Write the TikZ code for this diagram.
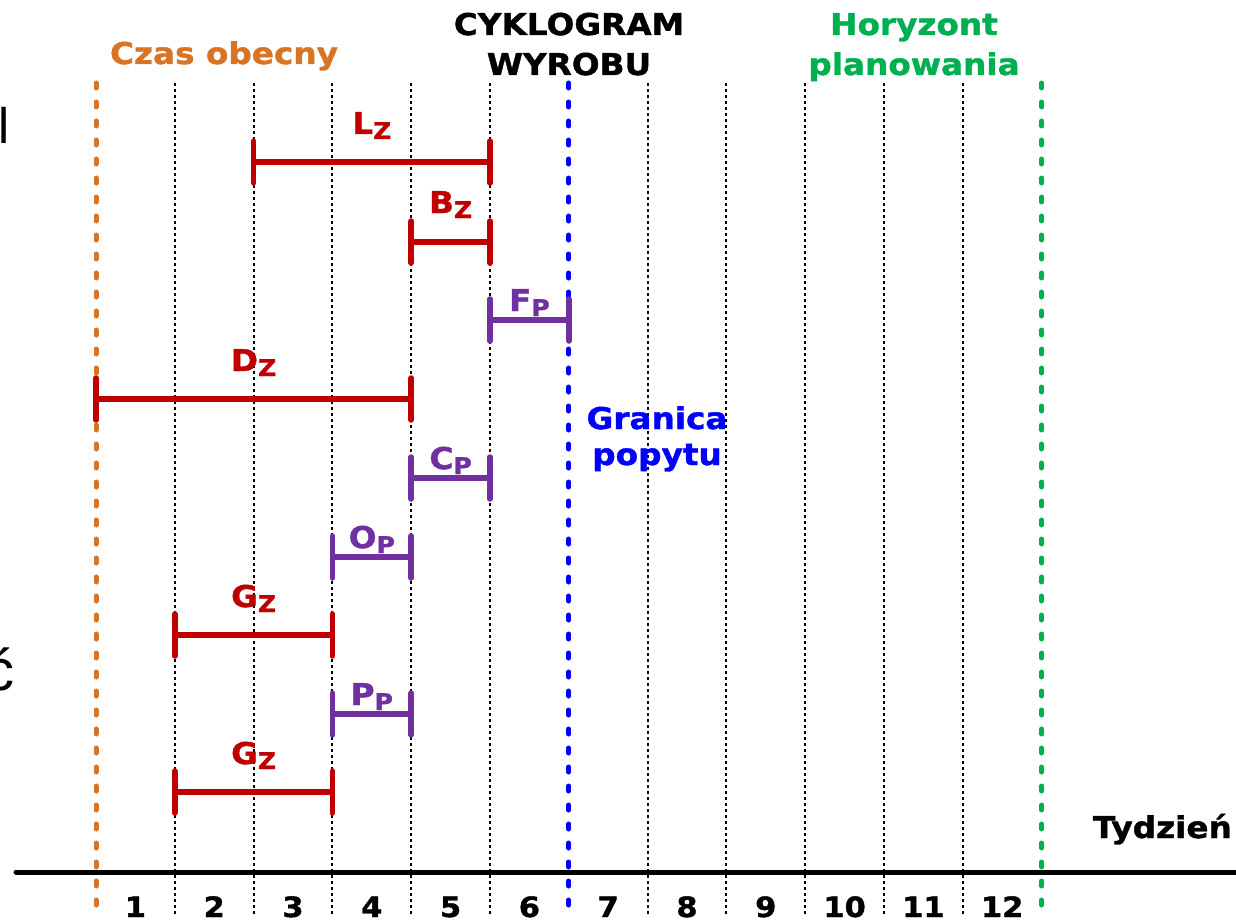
\documentclass[tikz,border=0pt]{standalone}
\usepackage{fontspec}
\newfontfamily\vb{DejaVu Sans}[FakeStretch=1.09, BoldFeatures={FakeBold=1.3}]
\newfontfamily\slide{Liberation Sans}
\definecolor{zred}{HTML}{C00000}
\definecolor{zpurple}{HTML}{7030A0}
\definecolor{zorange}{HTML}{DA7425}
\definecolor{zblue}{HTML}{0000FF}
\definecolor{zgreen}{HTML}{00B050}
\newcommand\lsub[2]{#1\raisebox{-5pt}{\fontsize{23}{23}\selectfont #2}}
\tikzset{
  lab/.style={font=\vb\bfseries\fontsize{30}{36}\selectfont, inner sep=0pt, anchor=base},
  num/.style={font=\vb\bfseries\fontsize{28}{30}\selectfont, inner sep=0pt, anchor=base},
  weekline/.style={line width=2pt, dash pattern=on 3pt off 3pt},
  markline/.style={line width=5pt, line cap=round, dash pattern=on 5pt off 14pt},
  barline/.style={line width=5.5pt},
  barend/.style={line width=5.5pt, line cap=round},
}
\begin{document}
\begin{tikzpicture}[x=1pt,y=-1pt]
\useasboundingbox (0,0) rectangle (1236,923);

% edge of neighbouring text
\node[font=\slide\fontsize{50}{50}\selectfont, inner sep=0pt, anchor=base east] (edge1) at (10,143) {l};
\node[font=\slide\fontsize{58}{58}\selectfont, inner sep=0pt, anchor=base east] (edge2) at (15,690) {ć};

% week boundaries
\foreach \k in {1,...,5,7,8,...,11} {
  \coordinate (t\k) at ({96+78.8*\k},83);
  \coordinate (b\k) at ({96+78.8*\k},914);
  \draw[weekline] (t\k) -- (b\k);
}

% time axis
\coordinate (axL) at (16,872);
\coordinate (axR) at (1240,872);
\draw[line width=5pt, line cap=round] (axL) -- (axR);
\node[lab, anchor=base east] (tydz) at (1232,838) {Tydzień};

% week numbers
\foreach \k in {1,...,12} {
  \node[num] (n\k) at ({96+78.8*(\k-0.5)},917) {\k};
}

% present time, demand limit, planning horizon
\coordinate (nowT) at (96,83);   \coordinate (nowB) at (96,914);
\coordinate (demT) at (568.8,83); \coordinate (demB) at (568.8,914);
\coordinate (horT) at (1041.6,83); \coordinate (horB) at (1041.6,914);
\draw[markline, zorange] (nowT) -- (nowB);
\draw[markline, zblue] (demT) -- (demB);
\draw[markline, zgreen] (horT) -- (horB);

\node[lab, text=zorange] (now) at (224,64) {Czas obecny};
\node[lab] (title1) at (569,35) {CYKLOGRAM};
\node[lab] (title2) at (569,75) {WYROBU};
\node[lab, text=zgreen] (hor1) at (914,35) {Horyzont};
\node[lab, text=zgreen] (hor2) at (914,75) {planowania};
\node[lab, text=zblue] (dem1) at (657,429) {Granica};
\node[lab, text=zblue] (dem2) at (657,465) {popytu};

% operation bars
\foreach \n/\c/\a/\b/\y/\L/\S/\d in {
  Lz/zred/2/5/162/L/Z/28,
  Bz/zred/4/5/242/B/Z/29,
  Fp/zpurple/5/6/320/F/P/9,
  Dz/zred/0/4/399/D/Z/28,
  Cp/zpurple/4/5/478/C/P/9,
  Op/zpurple/3/4/557/O/P/9,
  Gz/zred/1/3/635/G/Z/28,
  Pp/zpurple/3/4/714/P/P/9,
  Gzz/zred/1/3/792/G/Z/28} {
  \coordinate (\n-a) at ({96+78.8*\a},\y);
  \coordinate (\n-b) at ({96+78.8*\b},\y);
  \draw[barline, \c] (\n-a) -- (\n-b);
  \draw[barend, \c] ([yshift=21pt]\n-a) -- ([yshift=-21pt]\n-a);
  \draw[barend, \c] ([yshift=21pt]\n-b) -- ([yshift=-21pt]\n-b);
  \node[lab, text=\c] (\n-l) at ({96+78.8*(\a+\b)/2},{\y-\d}) {\lsub{\L}{\S}};
}
\end{tikzpicture}
\end{document}
